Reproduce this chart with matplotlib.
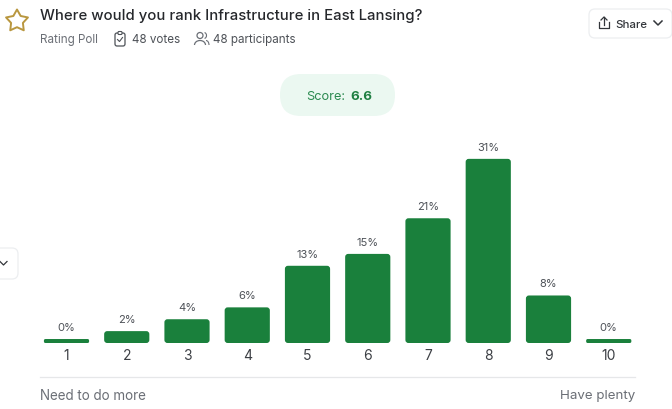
#!/usr/bin/env python3
"""Rating poll card: Infrastructure in East Lansing"""

import numpy as np
import matplotlib
matplotlib.use('Agg')
import matplotlib.pyplot as plt
from matplotlib.patches import FancyBboxPatch, Polygon, Circle, Arc

plt.rcParams['font.family'] = ['Inter', 'DejaVu Sans']

W, H = 672, 409

ratings = [1, 2, 3, 4, 5, 6, 7, 8, 9, 10]
percents = [0, 2, 4, 6, 13, 15, 21, 31, 8, 0]

GREEN = '#1a803c'
DARK = '#26282c'
GREY = '#6b6f76'
BAR_W = 0.75
MIN_H = 0.67  # empty options still show a thin stub


def rounded(ax, x, y, w, h, r, aspect=1.0, **kw):
    p = FancyBboxPatch((x, y), w, h, boxstyle=f'round,pad=0,rounding_size={r}',
                       mutation_aspect=aspect, **kw)
    ax.add_patch(p)
    return p


fig = plt.figure(figsize=(W / 100, H / 100), dpi=100, facecolor='white')

# overlay in pixel coordinates for the card furniture
bg = fig.add_axes([0, 0, 1, 1])
bg.set_xlim(0, W)
bg.set_ylim(H, 0)
bg.axis('off')

bg.text(40, 16, 'Where would you rank Infrastructure in East Lansing?',
        fontsize=10.7, color=DARK, va='center', ha='left', fontweight='medium')
bg.text(40, 40, 'Rating Poll', fontsize=8.4, color=GREY, va='center')
bg.text(132, 40, '48 votes', fontsize=8.4, color='#4d5157', va='center')
bg.text(213, 40, '48 participants', fontsize=8.4, color='#4d5157', va='center')

# star icon
ang = np.deg2rad(np.arange(10) * 36 - 90)
rad = np.array([11.5, 6.2] * 5)
star = np.c_[17 + rad * np.cos(ang), 21 + rad * np.sin(ang)]
bg.add_patch(Polygon(star, closed=True, fill=False, edgecolor='#b9973f', lw=1.4, joinstyle='round'))

# clipboard icon
rounded(bg, 115, 33, 10, 13, 2, fill=False, edgecolor='#4d5157', lw=0.9)
rounded(bg, 118, 31.5, 4, 3, 1, fill=True, facecolor='white', edgecolor='#4d5157', lw=0.8)
bg.plot([117.5, 119.5, 122.5], [39.5, 41.5, 37.5], color='#4d5157', lw=0.8)

# people icon
bg.add_patch(Circle((200, 35.5), 3, fill=False, edgecolor='#6b6f76', lw=0.9))
bg.add_patch(Arc((200, 45), 11, 9, theta1=180, theta2=360, edgecolor='#6b6f76', lw=0.9))
bg.add_patch(Arc((204, 35.5), 5, 6, theta1=-80, theta2=80, edgecolor='#6b6f76', lw=0.8))
bg.add_patch(Arc((206, 45), 6, 9, theta1=270, theta2=360, edgecolor='#6b6f76', lw=0.8))

# share button
rounded(bg, 589, 9, 83, 29, 6, facecolor='white', edgecolor='#eceef0', lw=0.9)
bg.text(615, 24.5, 'Share', fontsize=8.2, color='#33363b', va='center', fontweight='medium')
bg.plot([599, 599, 609, 609], [22, 28, 28, 22], color='#33363b', lw=0.9)
bg.plot([604, 604], [25, 17], color='#33363b', lw=0.9)
bg.plot([601, 604, 607], [20, 17, 20], color='#33363b', lw=0.9)
bg.plot([654, 658, 662], [21, 25, 21], color='#33363b', lw=1.1, zorder=5)

# score pill
rounded(bg, 280, 74, 115, 42, 21, facecolor='#ebf8f1', edgecolor='none')
bg.text(306, 96.5, 'Score:', fontsize=9.2, color='#2b8a50', va='center')
bg.text(350, 96.5, '6.6', fontsize=9.6, color='#1f7f42', va='center', fontweight='bold')

# collapsed side button
rounded(bg, -20, 248, 38, 31, 6, facecolor='white', edgecolor='#eceef0', lw=0.9)
bg.plot([0, 3.5, 7], [261.5, 265, 261.5], color='#33363b', lw=0.9)

# footer
bg.plot([40, 635], [376.5, 376.5], color='#e6e7e9', lw=0.9)
bg.text(40, 396.5, 'Need to do more', fontsize=9.7, color=GREY, va='center')
bg.text(635, 396.5, 'Have plenty', fontsize=9.6, color=GREY, va='center', ha='right')

# bar chart, 60.25 px per rating and 5.94 px per percent
left, right, top, bottom = 37, 640, 140, 343
ax = fig.add_axes([left / W, 1 - bottom / H, (right - left) / W, (bottom - top) / H])
ax.patch.set_alpha(0)
px_x, px_y = 60.25, 5.94
ax.set_xlim(1 + (left - 66.5) / px_x, 1 + (right - 66.5) / px_x)
ax.set_ylim(0, (bottom - top) / px_y)
aspect = px_x / px_y

for r, v in zip(ratings, percents):
    h = max(v, MIN_H)
    rnd = 0.025 if v == 0 else 0.05
    rounded(ax, r - BAR_W / 2, 0, BAR_W, h, rnd, aspect=aspect, facecolor=GREEN, edgecolor='none')
    ax.annotate(f'{v}%', (r, h), xytext=(0, 4.5), textcoords='offset points',
                ha='center', va='bottom', fontsize=8, color='#4d5157', clip_on=False)

ax.set_xticks(ratings)
ax.set_xticklabels(ratings, fontsize=10, color='#3c3f44')
ax.tick_params(axis='x', length=0, pad=4.5)
ax.set_yticks([])
for s in ax.spines.values():
    s.set_visible(False)

fig.savefig('out.png', dpi=100, facecolor='white')
